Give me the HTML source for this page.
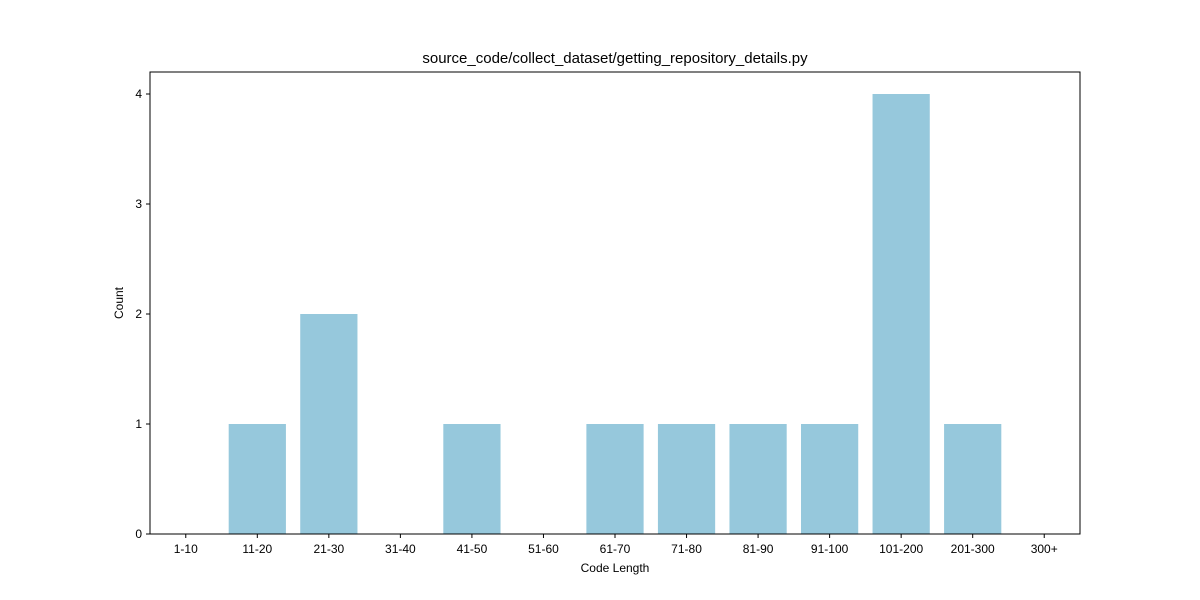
<!DOCTYPE html>
<html>
<head>
<meta charset="utf-8">
<style>
  html,body{margin:0;padding:0;background:#fff;}
  svg{display:block;font-family:"Liberation Sans","DejaVu Sans",sans-serif;}
</style>
</head>
<body>
<svg id="chart" width="1200" height="600" viewBox="0 0 1200 600">
  <rect x="0" y="0" width="1200" height="600" fill="#fff"/>
  <text x="615" y="63" text-anchor="middle" font-size="15" fill="#000">source_code/collect_dataset/getting_repository_details.py</text>
  <g id="bars"></g>
  <g id="xticks"></g>
  <g id="yticks"></g>
  <rect x="150" y="72" width="930" height="462" fill="none" stroke="#000" stroke-width="1"/>
  <text x="615" y="572" text-anchor="middle" font-size="12" fill="#000">Code Length</text>
  <text x="123" y="303" text-anchor="middle" font-size="12" fill="#000" transform="rotate(-90 123 303)">Count</text>
</svg>
<script>
const categories = ["1-10","11-20","21-30","31-40","41-50","51-60","61-70","71-80","81-90","91-100","101-200","201-300","300+"];
const counts = [0,1,2,0,1,0,1,1,1,1,4,1,0];
const yTicks = [0,1,2,3,4];

const NS = "http://www.w3.org/2000/svg";
const L = 150, R = 1080, T = 72, B = 534;
const xMin = -0.5, xMax = categories.length - 0.5;
const yMin = 0, yMax = 4.2;
const xs = v => L + (v - xMin) / (xMax - xMin) * (R - L);
const ys = v => B - (v - yMin) / (yMax - yMin) * (B - T);

const bars = document.getElementById('bars');
const xt = document.getElementById('xticks');
const yt = document.getElementById('yticks');

categories.forEach((c, i) => {
  const x0 = xs(i - 0.4), x1 = xs(i + 0.4);
  const r = document.createElementNS(NS, 'rect');
  
  
  r.setAttribute('x', x0);
  r.setAttribute('y', ys(counts[i]));
  r.setAttribute('width', x1 - x0);
  r.setAttribute('height', ys(0) - ys(counts[i]));
  r.setAttribute('fill', '#96c8dc');
  bars.appendChild(r);

  const cx = xs(i);
  const tk = document.createElementNS(NS, 'line');
  
  
  tk.setAttribute('x1', cx); tk.setAttribute('x2', cx);
  tk.setAttribute('y1', B); tk.setAttribute('y2', B + 4);
  tk.setAttribute('stroke', '#000');
  xt.appendChild(tk);
  const t = document.createElementNS(NS, 'text');
  
  
  t.setAttribute('x', cx); t.setAttribute('y', B + 19);
  t.setAttribute('text-anchor', 'middle');
  t.setAttribute('font-size', '12');
  t.textContent = c;
  xt.appendChild(t);
});

yTicks.forEach(v => {
  const y = ys(v);
  const tk = document.createElementNS(NS, 'line');
  
  
  tk.setAttribute('x1', L - 4); tk.setAttribute('x2', L);
  tk.setAttribute('y1', y); tk.setAttribute('y2', y);
  tk.setAttribute('stroke', '#000');
  yt.appendChild(tk);
  const t = document.createElementNS(NS, 'text');
  
  
  t.setAttribute('x', L - 8); t.setAttribute('y', y + 4);
  t.setAttribute('text-anchor', 'end');
  t.setAttribute('font-size', '12');
  t.textContent = v;
  yt.appendChild(t);
});
</script>
</body>
</html>
